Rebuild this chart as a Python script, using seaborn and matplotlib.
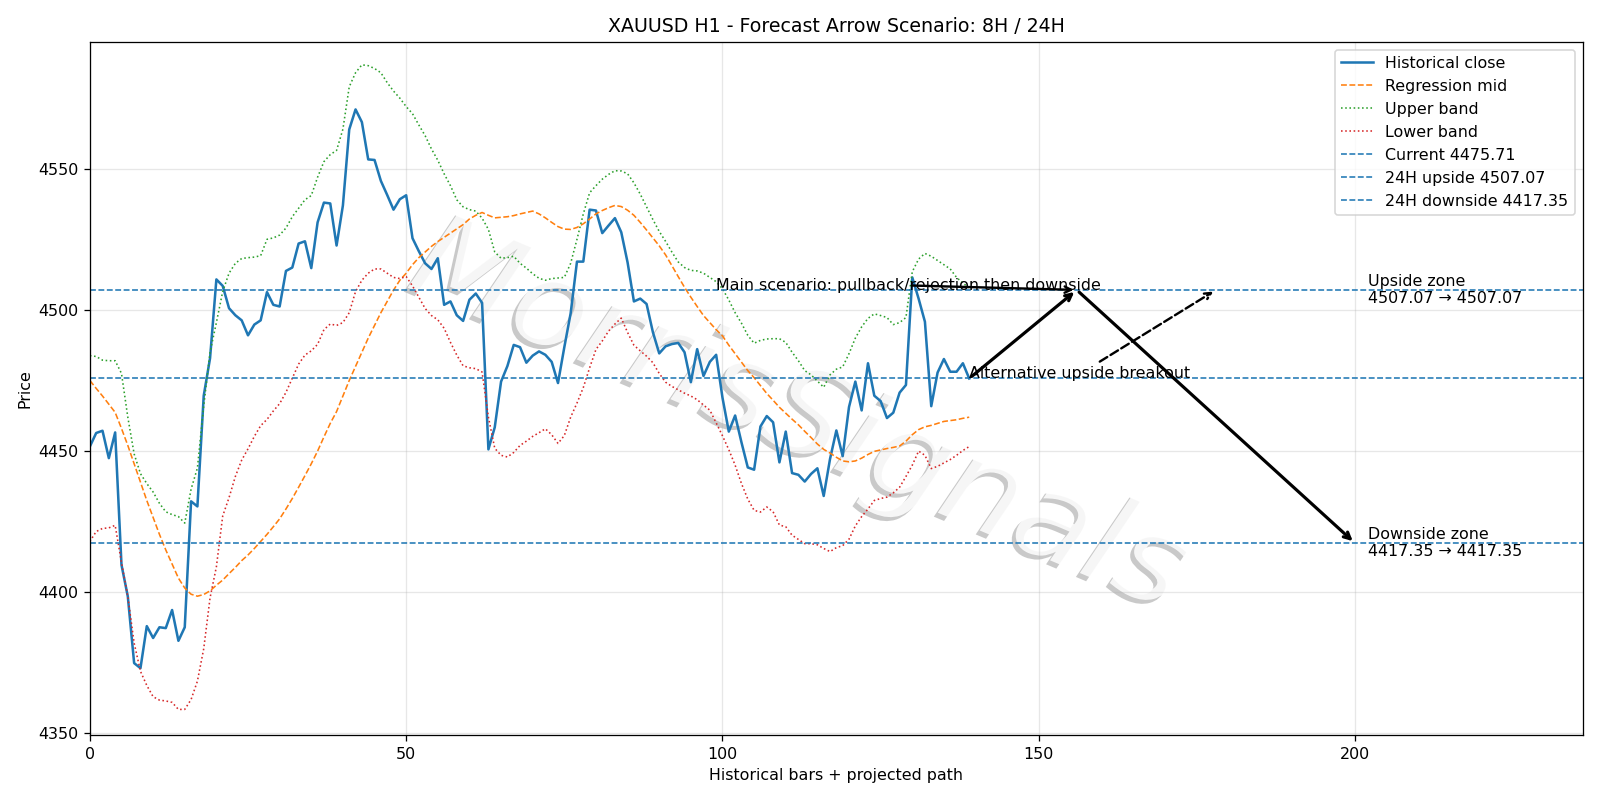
import numpy as np
import pandas as pd
import seaborn as sns
import matplotlib
matplotlib.use("Agg")
import matplotlib.pyplot as plt
import matplotlib.patheffects as pe

# historical H1 closes (bars 0..139)
close = [
    4451.6, 4456.4, 4457.2, 4447.5, 4456.6, 4409.7, 4398.5, 4374.9, 4373.1, 4388.0,
    4383.8, 4387.6, 4387.3, 4393.7, 4382.8, 4387.6, 4432.2, 4430.4, 4469.6, 4482.9,
    4510.8, 4508.5, 4500.6, 4498.1, 4496.3, 4491.0, 4494.8, 4496.3, 4506.3, 4501.8,
    4501.2, 4513.8, 4515.0, 4523.5, 4524.3, 4514.8, 4531.0, 4538.0, 4537.7, 4522.8,
    4537.0, 4563.9, 4571.0, 4566.5, 4553.3, 4553.1, 4545.7, 4540.7, 4535.5, 4539.2,
    4540.6, 4525.4, 4520.8, 4516.5, 4514.5, 4518.3, 4501.8, 4503.0, 4498.1, 4496.1,
    4503.6, 4505.8, 4502.5, 4450.6, 4458.4, 4474.6, 4480.1, 4487.6, 4486.8, 4481.3,
    4483.8, 4485.3, 4484.1, 4481.6, 4474.1, 4486.8, 4498.8, 4517.1, 4517.1, 4535.5,
    4535.2, 4527.2, 4529.9, 4532.5, 4527.5, 4516.8, 4503.0, 4504.0, 4502.1, 4492.1,
    4484.6, 4487.1, 4487.9, 4488.3, 4485.0, 4474.4, 4486.1, 4476.6, 4481.6, 4484.1,
    4468.9, 4456.9, 4462.6, 4453.1, 4444.2, 4443.4, 4458.7, 4462.4, 4460.2, 4446.0,
    4456.9, 4442.2, 4441.6, 4439.2, 4441.9, 4443.9, 4434.1, 4447.2, 4457.3, 4448.2,
    4465.6, 4474.6, 4464.4, 4481.1, 4469.6, 4467.7, 4461.7, 4463.6, 4470.7, 4473.4,
    4511.5, 4504.0, 4495.8, 4465.9, 4477.8, 4482.6, 4478.1, 4478.1, 4481.1, 4475.71,
]

reg_mid = [
    4475.0, 4472.2, 4469.5, 4466.6, 4463.7, 4458.0, 4452.0, 4445.5, 4439.0, 4432.5,
    4426.5, 4420.5, 4415.0, 4410.0, 4405.0, 4401.5, 4399.3, 4398.6, 4399.2, 4400.5,
    4402.5, 4404.3, 4406.6, 4408.8, 4411.2, 4413.2, 4415.5, 4418.0, 4420.5, 4423.2,
    4426.0, 4429.5, 4433.2, 4437.2, 4441.3, 4445.5, 4450.0, 4455.0, 4459.8, 4464.0,
    4469.5, 4475.0, 4480.0, 4485.0, 4490.0, 4494.5, 4499.0, 4503.0, 4507.0, 4510.5,
    4513.0, 4516.0, 4518.5, 4520.5, 4522.5, 4524.2, 4525.7, 4527.2, 4528.7, 4530.2,
    4532.2, 4533.5, 4534.5, 4533.5, 4532.6, 4532.8, 4533.0, 4533.4, 4534.0, 4534.5,
    4535.0, 4534.0, 4532.6, 4531.0, 4529.5, 4528.6, 4528.5, 4529.2, 4530.5, 4532.2,
    4534.0, 4535.2, 4536.2, 4537.0, 4536.6, 4535.3, 4533.5, 4531.0, 4528.3, 4525.5,
    4522.7, 4519.5, 4515.7, 4511.8, 4508.0, 4504.5, 4501.2, 4498.0, 4495.5, 4493.0,
    4490.8, 4487.5, 4484.5, 4481.5, 4478.5, 4476.0, 4473.2, 4470.4, 4468.0, 4465.5,
    4463.4, 4461.3, 4459.3, 4457.0, 4454.8, 4452.5, 4450.6, 4449.3, 4447.8, 4446.5,
    4446.2, 4446.5, 4447.5, 4448.8, 4449.9, 4450.4, 4450.9, 4451.3, 4451.8, 4453.5,
    4455.8, 4457.6, 4458.6, 4459.1, 4459.8, 4460.5, 4460.8, 4461.1, 4461.6, 4462.0,
]

upper_band = [
    4483.8, 4483.5, 4482.2, 4482.0, 4482.0, 4477.5, 4462.0, 4449.0, 4442.0, 4438.5,
    4435.5, 4431.5, 4428.5, 4427.5, 4426.8, 4424.5, 4436.5, 4444.0, 4466.0, 4485.0,
    4495.5, 4506.5, 4513.0, 4516.5, 4518.2, 4518.5, 4518.7, 4519.2, 4525.0, 4525.5,
    4526.5, 4529.0, 4533.0, 4536.0, 4539.0, 4540.5, 4547.0, 4552.5, 4555.0, 4556.5,
    4564.0, 4579.0, 4584.0, 4586.8, 4586.5, 4585.5, 4584.0, 4580.5, 4577.5, 4575.0,
    4572.0, 4569.5, 4565.5, 4561.7, 4557.0, 4553.0, 4548.2, 4544.0, 4539.0, 4536.5,
    4535.5, 4535.0, 4532.5, 4528.5, 4520.5, 4518.3, 4518.5, 4519.0, 4516.5, 4514.8,
    4512.8, 4511.2, 4510.5, 4511.1, 4511.3, 4511.5, 4516.5, 4525.0, 4534.0, 4541.5,
    4544.0, 4546.3, 4548.0, 4549.3, 4549.2, 4548.2, 4545.0, 4541.0, 4536.5, 4532.0,
    4527.8, 4524.3, 4520.5, 4517.0, 4515.0, 4514.0, 4513.8, 4513.0, 4511.5, 4510.0,
    4507.5, 4503.5, 4499.0, 4495.3, 4491.0, 4488.2, 4489.2, 4489.7, 4489.8, 4489.8,
    4488.5, 4485.0, 4482.0, 4478.5, 4477.0, 4474.8, 4472.6, 4477.0, 4479.0, 4479.8,
    4484.5, 4490.0, 4494.0, 4497.0, 4498.6, 4498.0, 4497.3, 4494.8, 4495.5, 4497.3,
    4513.5, 4518.0, 4520.0, 4519.0, 4517.5, 4516.0, 4514.5, 4511.5, 4509.5, 4507.8,
]

lower_band = [
    4418.0, 4421.5, 4422.6, 4422.8, 4423.7, 4410.5, 4398.5, 4382.0, 4372.0, 4367.0,
    4363.0, 4361.8, 4361.5, 4361.0, 4358.5, 4358.5, 4362.0, 4368.5, 4380.0, 4398.0,
    4409.0, 4427.0, 4433.5, 4441.0, 4446.8, 4450.8, 4455.2, 4459.0, 4461.2, 4464.2,
    4466.8, 4470.8, 4475.8, 4480.8, 4484.0, 4485.5, 4487.8, 4493.0, 4495.0, 4494.5,
    4495.5, 4499.0, 4506.5, 4510.5, 4513.0, 4514.5, 4514.5, 4513.0, 4511.5, 4511.1,
    4511.8, 4508.5, 4504.5, 4500.5, 4498.0, 4496.5, 4493.5, 4488.5, 4484.0, 4480.2,
    4479.5, 4479.2, 4478.0, 4462.0, 4451.0, 4448.5, 4447.9, 4449.5, 4452.0, 4453.5,
    4455.2, 4456.5, 4457.9, 4455.8, 4452.7, 4455.5, 4462.0, 4467.0, 4472.5, 4479.5,
    4486.0, 4489.0, 4492.5, 4495.0, 4497.1, 4492.0, 4487.5, 4485.5, 4483.6, 4481.3,
    4477.5, 4474.4, 4472.9, 4471.7, 4470.5, 4469.5, 4468.2, 4466.3, 4464.5, 4460.0,
    4455.4, 4450.5, 4445.0, 4438.5, 4433.0, 4429.0, 4428.4, 4430.2, 4428.5, 4423.8,
    4423.2, 4420.2, 4418.7, 4417.2, 4417.2, 4416.8, 4415.5, 4414.4, 4415.8, 4416.5,
    4418.8, 4423.5, 4426.8, 4429.5, 4432.5, 4433.2, 4433.7, 4435.2, 4437.2, 4441.0,
    4445.0, 4450.0, 4448.5, 4443.8, 4444.6, 4445.8, 4447.0, 4448.5, 4450.2, 4451.6,
]

current = 4475.71
up_24h = 4507.07
down_24h = 4417.35

# projected path x positions (bars)
peak_x = 156
end_x = 200
alt_x = 178

df = pd.DataFrame({
    "bar": np.arange(len(close)),
    "close": close,
    "mid": reg_mid,
    "upper": upper_band,
    "lower": lower_band,
})
last_x = df["bar"].iloc[-1]

fig, ax = plt.subplots(figsize=(14, 7), dpi=1600 / 14)

sns.lineplot(data=df, x="bar", y="close", ax=ax, color="C0", lw=1.6, label="Historical close")
sns.lineplot(data=df, x="bar", y="mid", ax=ax, color="C1", lw=1.0, linestyle="--", label="Regression mid")
sns.lineplot(data=df, x="bar", y="upper", ax=ax, color="C2", lw=1.0, linestyle=":", label="Upper band")
sns.lineplot(data=df, x="bar", y="lower", ax=ax, color="C3", lw=1.0, linestyle=":", label="Lower band")

ax.axhline(current, color="C0", ls="--", lw=1.0, label=f"Current {current:.2f}")
ax.axhline(up_24h, color="C0", ls="--", lw=1.0, label=f"24H upside {up_24h:.2f}")
ax.axhline(down_24h, color="C0", ls="--", lw=1.0, label=f"24H downside {down_24h:.2f}")

# main scenario path
ax.annotate("", xy=(peak_x, up_24h), xytext=(last_x, current),
            arrowprops=dict(arrowstyle="->", lw=2, color="black"))
ax.annotate("", xy=(end_x, down_24h), xytext=(peak_x, up_24h),
            arrowprops=dict(arrowstyle="->", lw=2, color="black"))
ax.annotate("Main scenario: pullback/rejection then downside",
            xy=(peak_x, up_24h), xytext=(last_x - 40, up_24h), fontsize=10,
            arrowprops=dict(arrowstyle="->", lw=1.5, color="black"))
ax.annotate("Alternative upside breakout",
            xy=(alt_x, up_24h), xytext=(last_x, current), fontsize=10,
            arrowprops=dict(arrowstyle="->", lw=1.5, ls="--", color="black"))

ax.text(end_x + 2, up_24h, f"Upside zone\n{up_24h:.2f} \u2192 {up_24h:.2f}", va="center", fontsize=10)
ax.text(end_x + 2, down_24h, f"Downside zone\n{down_24h:.2f} \u2192 {down_24h:.2f}", va="center", fontsize=10)

# watermark
ax.text(0.475, 0.46, "MorrisSignals", transform=ax.transAxes, fontsize=78,
        color="white", alpha=0.85, rotation=-23, ha="center", va="center",
        style="italic", zorder=0,
        path_effects=[pe.withSimplePatchShadow(offset=(-2.5, -2.5), shadow_rgbFace="#888888", alpha=0.45)])

ax.set_xlim(0, 236)
ax.set_ylim(4349.3, 4595)
ax.grid(True, alpha=0.3)
ax.set_title("XAUUSD H1 - Forecast Arrow Scenario: 8H / 24H")
ax.set_xlabel("Historical bars + projected path")
ax.set_ylabel("Price")
ax.legend(loc="upper right")

plt.tight_layout()
plt.savefig("out.png", dpi=1600 / 14)
